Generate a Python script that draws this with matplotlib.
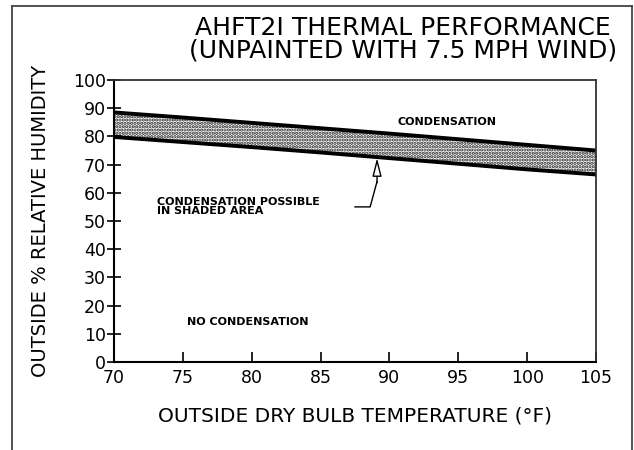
"""AHFT2I thermal performance chart (unpainted, 7.5 mph wind)."""

import matplotlib

matplotlib.use("Agg")
import matplotlib.pyplot as plt  # noqa: E402
from matplotlib.lines import Line2D  # noqa: E402

plt.rcParams["font.family"] = ["DejaVu Sans"]
plt.rcParams["hatch.linewidth"] = 1.6

# ---- data ----
temps = [70, 75, 80, 85, 90, 95, 100, 105]
rh_upper = [88.5, 86.7, 84.8, 82.9, 81.0, 79.0, 77.0, 75.0]
rh_lower = [79.8, 78.0, 76.2, 74.3, 72.3, 70.3, 68.3, 66.5]

x_ticks = [70, 75, 80, 85, 90, 95, 100, 105]
y_ticks = [0, 10, 20, 30, 40, 50, 60, 70, 80, 90, 100]

title_lines = ["AHFT2I THERMAL PERFORMANCE", "(UNPAINTED WITH 7.5 MPH WIND)"]

fig = plt.figure(figsize=(6.34, 4.5), dpi=100)
ax = fig.add_axes([114 / 634, 88 / 450, 482 / 634, 282 / 450])

# shaded band
ax.fill_between(temps, rh_lower, rh_upper, facecolor="white",
                edgecolor="#222222", hatch=".....", linewidth=0)
ax.plot(temps, rh_upper, color="black", lw=2.8, solid_capstyle="butt")
ax.plot(temps, rh_lower, color="black", lw=2.8, solid_capstyle="butt")

ax.set_xlim(70, 105)
ax.set_ylim(0, 100)
ax.set_xticks(x_ticks)
ax.set_yticks(y_ticks)
ax.tick_params(axis="y", direction="inout", length=10, width=1.2,
               labelsize=12.5, pad=1)
ax.tick_params(axis="x", direction="in", length=7, width=1.2,
               labelsize=12.5, pad=5)
for s in ("left", "bottom"):
    ax.spines[s].set_linewidth(1.5)
for s in ("top", "right"):
    ax.spines[s].set_linewidth(1.3)
    ax.spines[s].set_color("#333333")

# annotations
ax.text(90.6, 85.1, "CONDENSATION", fontsize=8, fontweight="bold",
        va="center", ha="left")
ax.text(73.1, 55.2, "CONDENSATION POSSIBLE\nIN SHADED AREA", fontsize=8,
        fontweight="bold", va="center", ha="left", linespacing=0.95)
ax.text(75.3, 14.2, "NO CONDENSATION", fontsize=8, fontweight="bold",
        va="center", ha="left")
ax.plot([87.5, 88.6, 89.1], [55.0, 55.0, 64.0], color="black", lw=1.0)
ax.annotate("", xy=(89.1, 72.3), xytext=(89.1, 63.5),
            arrowprops=dict(arrowstyle="-|>,head_length=1.1,head_width=0.28",
                            fc="white", ec="black", lw=1.0,
                            shrinkA=0, shrinkB=0))

ax.set_xlabel("OUTSIDE DRY BULB TEMPERATURE (°F)", fontsize=14.5,
              labelpad=14)
ax.set_ylabel("OUTSIDE % RELATIVE HUMIDITY", fontsize=14, labelpad=16)

fig.text(0.636, 0.937, title_lines[0], fontsize=18, ha="center",
         va="center")
fig.text(0.636, 0.888, title_lines[1], fontsize=18, ha="center",
         va="center")

# page frame
frame = [([12, 632], [444, 444]), ([12, 12], [0, 444]), ([632, 632], [0, 444])]
for fx, fy in frame:
    fig.add_artist(Line2D([v / 634 for v in fx], [v / 450 for v in fy],
                          color="#444444", lw=1.3))

fig.savefig("out.png", dpi=100)
